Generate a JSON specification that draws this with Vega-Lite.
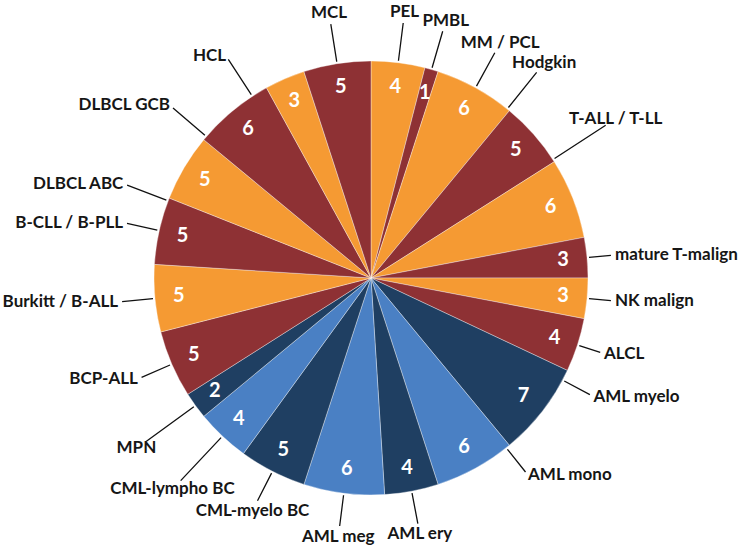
{
  "$schema": "https://vega.github.io/schema/vega-lite/v6.json",
  "autosize": {"type": "none"},
  "width": 742,
  "height": 556,
  "padding": {"left": 0, "top": 0, "right": 8, "bottom": 2},
  "background": "#ffffff",
  "config": {"view": {"stroke": null}},
  "data": {
    "values": [
      {"idx": 1, "name": "PEL", "value": 4, "cls": "lymphoid 1"},
      {"idx": 2, "name": "PMBL", "value": 1, "cls": "lymphoid 2"},
      {"idx": 3, "name": "MM / PCL", "value": 6, "cls": "lymphoid 1"},
      {"idx": 4, "name": "Hodgkin", "value": 5, "cls": "lymphoid 2"},
      {"idx": 5, "name": "T-ALL / T-LL", "value": 6, "cls": "lymphoid 1"},
      {"idx": 6, "name": "mature T-malign", "value": 3, "cls": "lymphoid 2"},
      {"idx": 7, "name": "NK malign", "value": 3, "cls": "lymphoid 1"},
      {"idx": 8, "name": "ALCL", "value": 4, "cls": "lymphoid 2"},
      {"idx": 9, "name": "AML myelo", "value": 7, "cls": "myeloid 1"},
      {"idx": 10, "name": "AML mono", "value": 6, "cls": "myeloid 2"},
      {"idx": 11, "name": "AML ery", "value": 4, "cls": "myeloid 1"},
      {"idx": 12, "name": "AML meg", "value": 6, "cls": "myeloid 2"},
      {"idx": 13, "name": "CML-myelo BC", "value": 5, "cls": "myeloid 1"},
      {"idx": 14, "name": "CML-lympho BC", "value": 4, "cls": "myeloid 2"},
      {"idx": 15, "name": "MPN", "value": 2, "cls": "myeloid 1"},
      {"idx": 16, "name": "BCP-ALL", "value": 5, "cls": "lymphoid 2"},
      {"idx": 17, "name": "Burkitt / B-ALL", "value": 5, "cls": "lymphoid 1"},
      {"idx": 18, "name": "B-CLL / B-PLL", "value": 5, "cls": "lymphoid 2"},
      {"idx": 19, "name": "DLBCL ABC", "value": 5, "cls": "lymphoid 1"},
      {"idx": 20, "name": "DLBCL GCB", "value": 6, "cls": "lymphoid 2"},
      {"idx": 21, "name": "HCL", "value": 3, "cls": "lymphoid 1"},
      {"idx": 22, "name": "MCL", "value": 5, "cls": "lymphoid 2"}
    ]
  },
  "encoding": {
    "theta": {"field": "value", "type": "quantitative", "stack": true},
    "order": {"field": "idx", "type": "quantitative"},
    "detail": {"field": "name", "type": "nominal"}
  },
  "layer": [
    {
      "mark": {"type": "arc", "outerRadius": 217, "stroke": "#ffffff", "strokeWidth": 1, "strokeOpacity": 0.35},
      "encoding": {
        "color": {"field": "cls", "type": "nominal", "legend": null,
          "scale": {"domain": ["lymphoid 1", "lymphoid 2", "myeloid 1", "myeloid 2"],
                    "range": ["#F59A33", "#8E3134", "#1F3F62", "#4A80C4"]}}
      }
    },
    {
      "mark": {"type": "text", "radius": 193, "font": "Lato", "fontSize": 20, "fontWeight": "bold", "fill": "#ffffff", "align": "center", "baseline": "middle"},
      "encoding": {"text": {"field": "value", "type": "quantitative"}}
    },
    {
      "mark": {"type": "arc", "innerRadius": 219, "outerRadius": 257, "padAngle": 0.9, "stroke": "#111111", "strokeWidth": 1.3, "fillOpacity": 0},
      "encoding": {"strokeOpacity": {"condition": {"test": "indexof(['MCL','PEL','PMBL','MM / PCL'], datum.name) >= 0", "value": 1}, "value": 0}}
    },
    {
      "mark": {"type": "arc", "innerRadius": 219, "outerRadius": 264, "padAngle": 0.9, "stroke": "#111111", "strokeWidth": 1.3, "fillOpacity": 0, "thetaOffset": -0.17, "theta2Offset": -0.17},
      "encoding": {"strokeOpacity": {"condition": {"test": "indexof(['Hodgkin'], datum.name) >= 0", "value": 1}, "value": 0}}
    },
    {
      "mark": {"type": "arc", "innerRadius": 219, "outerRadius": 280, "padAngle": 0.9, "stroke": "#111111", "strokeWidth": 1.3, "fillOpacity": 0, "thetaOffset": -0.2, "theta2Offset": -0.2},
      "encoding": {"strokeOpacity": {"condition": {"test": "indexof(['T-ALL / T-LL'], datum.name) >= 0", "value": 1}, "value": 0}}
    },
    {
      "mark": {"type": "arc", "innerRadius": 219, "outerRadius": 241, "padAngle": 0.9, "stroke": "#111111", "strokeWidth": 1.3, "fillOpacity": 0},
      "encoding": {"strokeOpacity": {"condition": {"test": "indexof(['mature T-malign','NK malign','ALCL'], datum.name) >= 0", "value": 1}, "value": 0}}
    },
    {
      "mark": {"type": "arc", "innerRadius": 219, "outerRadius": 248, "padAngle": 0.9, "stroke": "#111111", "strokeWidth": 1.3, "fillOpacity": 0, "thetaOffset": -0.17, "theta2Offset": -0.17},
      "encoding": {"strokeOpacity": {"condition": {"test": "indexof(['AML myelo','AML mono'], datum.name) >= 0", "value": 1}, "value": 0}}
    },
    {
      "mark": {"type": "arc", "innerRadius": 219, "outerRadius": 250, "padAngle": 0.9, "stroke": "#111111", "strokeWidth": 1.3, "fillOpacity": 0},
      "encoding": {"strokeOpacity": {"condition": {"test": "indexof(['AML ery','AML meg','CML-myelo BC'], datum.name) >= 0", "value": 1}, "value": 0}}
    },
    {
      "mark": {"type": "arc", "innerRadius": 219, "outerRadius": 278, "padAngle": 0.9, "stroke": "#111111", "strokeWidth": 1.3, "fillOpacity": 0},
      "encoding": {"strokeOpacity": {"condition": {"test": "indexof(['CML-lympho BC','MPN'], datum.name) >= 0", "value": 1}, "value": 0}}
    },
    {
      "mark": {"type": "arc", "innerRadius": 219, "outerRadius": 250, "padAngle": 0.9, "stroke": "#111111", "strokeWidth": 1.3, "fillOpacity": 0},
      "encoding": {"strokeOpacity": {"condition": {"test": "indexof(['BCP-ALL','Burkitt / B-ALL','B-CLL / B-PLL'], datum.name) >= 0", "value": 1}, "value": 0}}
    },
    {
      "mark": {"type": "arc", "innerRadius": 219, "outerRadius": 261, "padAngle": 0.9, "stroke": "#111111", "strokeWidth": 1.3, "fillOpacity": 0, "thetaOffset": -0.17, "theta2Offset": -0.17},
      "encoding": {"strokeOpacity": {"condition": {"test": "indexof(['DLBCL ABC','DLBCL GCB','HCL'], datum.name) >= 0", "value": 1}, "value": 0}}
    },
    {
      "mark": {"type": "text", "radius": 268, "align": "center", "baseline": "middle", "font": "Lato", "fontSize": 17, "fontWeight": "bold", "fill": "#161616"},
      "encoding": {"text": {"condition": {"test": "indexof(['MCL','PEL','PMBL','MM / PCL'], datum.name) >= 0", "field": "name"}, "value": ""}}
    },
    {
      "mark": {"type": "text", "radius": 276, "align": "center", "baseline": "middle", "font": "Lato", "fontSize": 17, "fontWeight": "bold", "fill": "#161616", "thetaOffset": -0.17},
      "encoding": {"text": {"condition": {"test": "indexof(['Hodgkin'], datum.name) >= 0", "field": "name"}, "value": ""}}
    },
    {
      "mark": {"type": "text", "radius": 292, "align": "center", "baseline": "middle", "font": "Lato", "fontSize": 17, "fontWeight": "bold", "fill": "#161616", "thetaOffset": -0.2},
      "encoding": {"text": {"condition": {"test": "indexof(['T-ALL / T-LL'], datum.name) >= 0", "field": "name"}, "value": ""}}
    },
    {
      "mark": {"type": "text", "radius": 245, "align": "left", "baseline": "middle", "font": "Lato", "fontSize": 17, "fontWeight": "bold", "fill": "#161616"},
      "encoding": {"text": {"condition": {"test": "indexof(['mature T-malign','NK malign','ALCL'], datum.name) >= 0", "field": "name"}, "value": ""}}
    },
    {
      "mark": {"type": "text", "radius": 252, "align": "left", "baseline": "middle", "font": "Lato", "fontSize": 17, "fontWeight": "bold", "fill": "#161616", "thetaOffset": -0.17},
      "encoding": {"text": {"condition": {"test": "indexof(['AML myelo','AML mono'], datum.name) >= 0", "field": "name"}, "value": ""}}
    },
    {
      "mark": {"type": "text", "radius": 261, "align": "center", "baseline": "middle", "font": "Lato", "fontSize": 17, "fontWeight": "bold", "fill": "#161616"},
      "encoding": {"text": {"condition": {"test": "indexof(['AML ery','AML meg','CML-myelo BC'], datum.name) >= 0", "field": "name"}, "value": ""}}
    },
    {
      "mark": {"type": "text", "radius": 290, "align": "center", "baseline": "middle", "font": "Lato", "fontSize": 17, "fontWeight": "bold", "fill": "#161616"},
      "encoding": {"text": {"condition": {"test": "indexof(['CML-lympho BC','MPN'], datum.name) >= 0", "field": "name"}, "value": ""}}
    },
    {
      "mark": {"type": "text", "radius": 254, "align": "right", "baseline": "middle", "font": "Lato", "fontSize": 17, "fontWeight": "bold", "fill": "#161616"},
      "encoding": {"text": {"condition": {"test": "indexof(['BCP-ALL','Burkitt / B-ALL','B-CLL / B-PLL'], datum.name) >= 0", "field": "name"}, "value": ""}}
    },
    {
      "mark": {"type": "text", "radius": 265, "align": "right", "baseline": "middle", "font": "Lato", "fontSize": 17, "fontWeight": "bold", "fill": "#161616", "thetaOffset": -0.17},
      "encoding": {"text": {"condition": {"test": "indexof(['DLBCL ABC','DLBCL GCB','HCL'], datum.name) >= 0", "field": "name"}, "value": ""}}
    }
  ]
}
